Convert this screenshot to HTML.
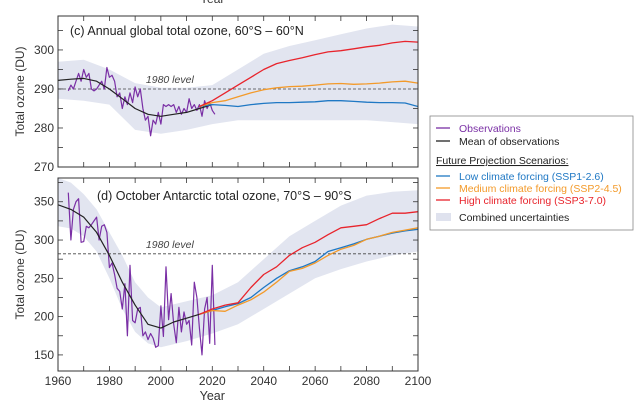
<!DOCTYPE html>
<html><head><meta charset="utf-8"><style>
body{margin:0;background:#fff;width:640px;height:415px;overflow:hidden;font-family:"Liberation Sans",sans-serif}
</style></head><body>
<svg id="chart" width="640" height="415" xmlns="http://www.w3.org/2000/svg" font-family="Liberation Sans, sans-serif"></svg>
<script>
// ---- data: top panel (c) ----
const topObsYears = [1964,1965,1966,1967,1968,1969,1970,1971,1972,1973,1974,1975,1976,1977,1978,1979,1980,1981,1982,1983,1984,1985,1986,1987,1988,1989,1990,1991,1992,1993,1994,1995,1996,1997,1998,1999,2000,2001,2002,2003,2004,2005,2006,2007,2008,2009,2010,2011,2012,2013,2014,2015,2016,2017,2018,2019,2020,2021];
const topObs = [289.5,291,290,292,294,292,295,293,294,290,289.5,290,291,292,290,295.5,293,293.5,292,288,289,285,288,286,289,286.5,290.5,288,290,285,282,283,278,282,281,284,281,286,285.5,286,285.5,286,284,285.5,283.5,285,284,287.5,285,286,284.5,286,283,287,285,286.5,284.5,283.5];
const topMeanYears = [1960,1965,1970,1975,1980,1985,1990,1995,2000,2005,2010,2015,2020];
const topMean = [292.2,292.5,292.7,292,290,287.5,285,283.5,283,283.5,284,285,286];
const projYears = [2015,2020,2025,2030,2035,2040,2045,2050,2055,2060,2065,2070,2075,2080,2085,2090,2095,2100];
const topLow = [285.5,286,285.8,285.5,286,286.3,286.5,286.5,286.6,286.7,287,287,286.8,286.6,286.5,286.5,286.4,285.5];
const topMed = [285.5,286.5,287,288,289,289.8,290.3,290.6,290.7,291,291.3,291.4,291.2,291.3,291.5,291.8,292,291.5];
const topHigh = [285.5,287,289,291,293,295,296.5,297.3,298,298.8,299.5,299.8,300.3,300.8,301.2,301.8,302.2,302];
const topBandYears = [1960,1970,1980,1990,2000,2010,2020,2030,2040,2050,2060,2070,2080,2090,2100];
const topBandLow = [287.5,287,286,279.5,278.5,279.5,281,282,282,282,282,282,282,281.5,281];
const topBandHigh = [297,297.5,295,291.5,290.3,290.3,291,295,299,301,302.5,304,305.5,306.5,306];
const topTicks = [270,280,290,300];
// ---- data: bottom panel (d) ----
const botObs = [362,300,340,350,354,297,298,318,316,320,325,330,300,318,320,310,264,270,255,237,233,210,243,175,267,195,192,210,212,175,180,170,178,172,160,162,214,174,265,196,230,190,166,212,180,206,190,195,163,245,225,185,150,210,225,165,267,163];
const botMean = [346,340,330,310,280,245,215,190,185,193,198,203,208];
const botLow = [203,208,213,217,225,238,250,260,265,272,285,290,295,301,305,309,312,314];
const botMed = [203,208,207,215,222,232,245,259,263,270,280,288,293,301,305,310,313,316];
const botHigh = [203,210,215,218,238,255,265,280,290,297,307,316,318,320,328,335,335,337];
const botBandYears = [1960,1965,1970,1975,1980,1985,1990,1995,2000,2010,2020,2030,2040,2050,2060,2070,2080,2090,2100];
const botBandLow = [318,315,305,285,250,210,180,165,160,168,178,190,210,230,250,262,272,280,285];
const botBandHigh = [381,375,360,340,310,280,245,225,212,220,228,245,275,305,325,345,358,363,365];
const botTicks = [150,200,250,300,350];
const xTicks = [1960,1980,2000,2020,2040,2060,2080,2100];

const NS="http://www.w3.org/2000/svg", svg=document.getElementById('chart');
function mk(tag,attrs,parent){const e=document.createElementNS(NS,tag);for(const k in attrs)e.setAttribute(k,attrs[k]);(parent||svg).appendChild(e);return e;}
const X0=58,X1=418;
const xs=y=>X0+(y-1960)/(140)*(X1-X0);
function panel(name,top,bot,vmin,vmax){return {name,top,bot,ys:v=>bot-(v-vmin)/(vmax-vmin)*(bot-top)};}
const P1=panel('top',16,167,270,308.7);
const P2=panel('bottom',178,371,129,381);

function poly(xsA,vs,ys){return xsA.map((x,i)=>xs(x).toFixed(1)+','+ys(vs[i]).toFixed(1)).join(' ');}
function drawPanel(P,d){
  const g=mk('g',{});
  
  
  const clip=mk('clipPath',{id:'c'+P.name},g);mk('rect',{x:X0,y:P.top,width:X1-X0,height:P.bot-P.top},clip);
  const inner=mk('g',{'clip-path':'url(#c'+P.name+')'},g);
  const pts=poly(d.bandYears,d.bandHigh,P.ys)+' '+poly(d.bandYears.slice().reverse(),d.bandLow.slice().reverse(),P.ys);
  const band=mk('polygon',{points:pts,fill:'#e2e5f0'},inner);
  
  
  const lvl=mk('line',{x1:X0,x2:X1,y1:P.ys(d.level),y2:P.ys(d.level),stroke:'#444','stroke-width':0.8,'stroke-dasharray':'3,2'},inner);
  
  
  const lt=mk('text',{x:xs(2003.5),y:P.ys(d.level)-6,'font-size':10.5,'font-style':'italic',fill:'#444','text-anchor':'middle'},g);lt.textContent='1980 level';
  
  
  const series=[['obs',topObsYears,d.obs,'#7a2fa5',1.2],['mean',topMeanYears,d.mean,'#222',1.2],['ssp1',projYears,d.low,'#1f78c4',1.3],['ssp2',projYears,d.med,'#f39a2a',1.3],['ssp3',projYears,d.high,'#e8242c',1.3]];
  for(const i of [0,1,2,3,4]){const s=series[i];
    const l=mk('polyline',{points:poly(s[1],s[2],P.ys),fill:'none',stroke:s[3],'stroke-width':s[4],'stroke-linejoin':'round'},inner);
    
    
  }
  const fr=mk('rect',{x:X0,y:P.top,width:X1-X0,height:P.bot-P.top,fill:'none',stroke:'#333','stroke-width':1},g);
  
  
  for(let y=1960;y<=2100;y+=10){const x=xs(y);
    mk('line',{x1:x,x2:x,y1:P.bot,y2:P.bot-5,stroke:'#333','stroke-width':0.8},g);
    mk('line',{x1:x,x2:x,y1:P.top,y2:P.top+5,stroke:'#333','stroke-width':0.8},g);}
  const step=(d.ticks[1]-d.ticks[0])/2;
  for(let v=d.ticks[0];v<=d.tickMax;v+=step){const y=P.ys(v);
    mk('line',{x1:X0,x2:X0+5,y1:y,y2:y,stroke:'#333','stroke-width':0.8},g);
    mk('line',{x1:X1,x2:X1-5,y1:y,y2:y,stroke:'#333','stroke-width':0.8},g);}
  d.ticks.forEach(v=>{const t=mk('text',{x:X0-4,y:P.ys(v)+4,'font-size':12,'text-anchor':'end',fill:'#333'},g);t.textContent=v;
    
    });
  const yt=mk('text',{x:0,y:0,'font-size':12,'text-anchor':'middle',fill:'#333',transform:`translate(24,${(P.top+P.bot)/2}) rotate(-90)`},g);yt.textContent='Total ozone (DU)';
  
  
  const tt=mk('text',{x:d.titleX,y:P.top+d.titleDy,'font-size':12.5,fill:'#222'},g);tt.textContent=d.title;
  
  
}
drawPanel(P1,{bandYears:topBandYears,bandLow:topBandLow,bandHigh:topBandHigh,level:290,obs:topObs,mean:topMean,low:topLow,med:topMed,high:topHigh,ticks:topTicks,tickMax:308,title:'(c) Annual global total ozone, 60°S – 60°N',titleX:70,titleDy:19});
drawPanel(P2,{bandYears:botBandYears,bandLow:botBandLow,bandHigh:botBandHigh,level:282,obs:botObs,mean:botMean,low:botLow,med:botMed,high:botHigh,ticks:botTicks,tickMax:380,title:'(d) October Antarctic total ozone, 70°S – 90°S',titleX:97,titleDy:22});
xTicks.forEach(v=>{const t=mk('text',{x:xs(v),y:385,'font-size':12,'text-anchor':'middle',fill:'#333'});t.textContent=v;
  
  });
const xt=mk('text',{x:xs(2020),y:400,'font-size':12.5,'text-anchor':'middle',fill:'#333'});xt.textContent='Year';


const xt0=mk('text',{x:xs(2020),y:3,'font-size':12,'text-anchor':'middle',fill:'#333'});xt0.textContent='Year';


// legend
const lg=mk('g',{});


mk('rect',{x:430,y:116,width:203,height:114,fill:'#fff',stroke:'#888','stroke-width':0.8},lg);
const items=[['Observations','#7a2fa5',128,'line'],['Mean of observations','#222',141,'line'],['Low climate forcing (SSP1-2.6)','#1f78c4',176,'line'],['Medium climate forcing (SSP2-4.5)','#f39a2a',188,'line'],['High climate forcing (SSP3-7.0)','#e8242c',200,'line'],['Combined uncertainties','#dfe2ee',217,'box']];
items.forEach(it=>{
  if(it[3]==='line') mk('line',{x1:436,x2:450,y1:it[2],y2:it[2],stroke:it[1],'stroke-width':1.3},lg);
  else mk('rect',{x:436,y:it[2]-4,width:15,height:8,fill:it[1]},lg);
  const t=mk('text',{x:459,y:it[2]+4,'font-size':10.5,fill:it[3]==='box'||it[1]==='#222'?'#222':it[1]},lg);t.textContent=it[0];
  
  
});
const lt=mk('text',{x:436,y:164,'font-size':10.5,fill:'#222','text-decoration':'underline'},lg);lt.textContent='Future Projection Scenarios:';


</script>
</body></html>
